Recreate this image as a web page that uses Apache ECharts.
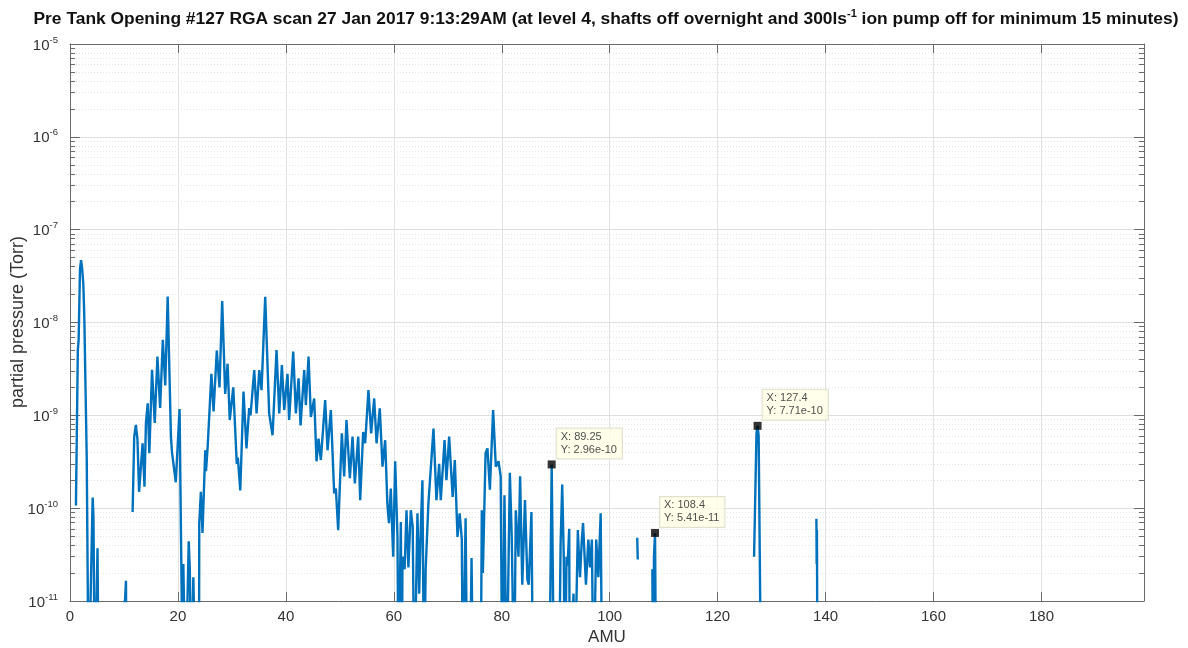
<!DOCTYPE html>
<html>
<head>
<meta charset="utf-8">
<script src="https://cdn.jsdelivr.net/npm/echarts@6/dist/echarts.min.js"></script>
<style>
html,body{margin:0;padding:0;background:#fff;}
#chart{width:1188px;height:648px;}
</style>
</head>
<body>
<div id="chart"></div>
<script>
// ---- data (AMU, partial pressure in Torr); null = gap (no positive reading) ----
const amu = [
  1.1, 1.45, 1.6, 1.85, 2.05, 2.25, 2.47, 2.65, 3.1, 3.45, 3.55, 4.2, 4.35, 4.6, 4.8, 5.1, 5.3, 7.5,
  9.9, 10.2, 10.37, 10.5, 11.0,
  11.6, 11.9, 12.2, 12.5, 12.8, 13.45, 13.8, 14.07, 14.4, 14.7, 15.2, 15.7, 16.2, 16.7, 17.2, 17.65, 18.1,
  18.7, 18.9, 19.6, 20.3, 20.9, 21.0, 21.2, 21.4, 22.0, 22.2, 22.5, 22.85, 23.0, 23.3, 23.9,
  23.95, 24.25, 24.55, 25.06, 25.2, 25.5, 26.2, 26.6, 27.2, 27.7, 28.2, 28.75, 29.2, 29.6, 30.25,
  30.9, 31.1, 31.55, 32.15, 32.7, 33.2, 33.45, 34.14, 34.57, 35.07, 35.49, 36.17, 36.9, 37.2, 37.53,
  38.27, 38.77, 39.26, 39.69, 40.3, 40.6, 41.36, 41.85, 42.35, 42.72, 43.4, 43.7, 44.2, 44.63, 45.25,
  45.68, 46.05, 46.48, 47.28, 47.72, 48.33, 48.95, 49.26, 49.69, 50.37, 50.8, 51.23, 51.85, 52.35,
  52.78, 53.4, 53.77, 54.32, 54.69, 55.3, 55.8, 56.36, 56.8, 57.4, 57.9, 58.4, 58.8, 59.1, 59.44,
  59.88, 60.25, 60.68, 60.87, 61.3, 61.5, 61.6, 62.0, 62.35, 62.7, 63.15, 63.5, 63.8, 64.38, 64.7,
  65.0, 65.3, 65.6, 65.9, 66.4, 66.7, 67.35, 67.9, 68.4, 68.7, 69.4, 69.75, 70.25, 70.9, 71.3, 71.8,
  72.2, 72.6, 72.8, 73.3, 73.6, 74.1, 74.4, 74.7, 75.4,
  76.1, 76.3, 76.5, 77.0, 77.35, 77.8, 78.4, 78.9, 79.4, 79.8, 80.1, 80.5, 80.9, 81.5, 81.85, 82.3,
  82.6, 83.1, 83.4, 83.8, 84.3, 84.75, 85.0, 85.5, 85.8, 87.0,
  88.8, 89.25, 89.7, 90.6, 90.9, 91.2, 91.5, 91.7, 92.0, 92.2, 92.5, 92.6, 93.3, 93.5, 94.1, 94.3,
  94.5, 94.8, 95.06, 95.4, 95.6, 96.05, 96.35, 96.7, 97.0, 97.5, 97.9, 98.33, 98.6, 102.0,
  105.1, 105.2, 106.5,
  107.9, 108.05, 108.2, 108.4, 108.6, 117.0,
  126.75, 127.2, 127.4, 127.6, 128.05, 133.0,
  138.3, 138.35, 138.4, 138.5
];
const pressure = [
  1.07e-10, 5e-9, 6.5e-9, 3.7e-8, 4.7e-8, 3.8e-8, 2.6e-8, 1.15e-8, 3.5e-10, 1e-12, 1e-12, 1.3e-10, 8e-11, 1e-12, 1e-12, 3.7e-11, 1e-12, null,
  9e-12, 1.02e-11, 1.65e-11, 1e-12, null,
  9.1e-11, 5.9e-10, 7.9e-10, 5.5e-10, 1.5e-10, 5e-10, 1.7e-10, 8.3e-10, 1.35e-9, 3.9e-10, 3.1e-9, 8.3e-10, 4.3e-9, 1.2e-9, 6.5e-9, 2.1e-9, 1.9e-8,
  5.9e-10, 4e-10, 1.9e-10, 1.17e-9, 1e-12, 2.5e-11, 2.4e-11, 1e-12, 4.4e-11, 2.2e-11, 1e-12, 1.8e-11, 1.8e-11, 1e-12, 1e-12,
  6.9e-11, 1.5e-10, 5.4e-11, 4.2e-10, 2.5e-10, 4.5e-10, 2.8e-9, 1.1e-9, 5e-9, 2e-9, 1.7e-8, 1.7e-9, 3.6e-9, 8.9e-10, 2.0e-9,
  3.0e-10, 3.5e-10, 1.55e-10, 1.8e-9, 4.4e-10, 1.2e-9, 1.0e-9, 3.07e-9, 1.05e-9, 3.07e-9, 1.87e-9, 1.89e-8, 1.05e-9, 1.09e-9, 6.1e-10,
  5.05e-9, 1.05e-9, 3.47e-9, 1.14e-9, 2.8e-9, 8.9e-10, 4.85e-9, 1.05e-9, 2.5e-9, 7.8e-10, 3.07e-9, 1.29e-9, 4.3e-9, 9.6e-10, 1.52e-9,
  3.2e-10, 5.6e-10, 3.3e-10, 1.46e-9, 4.2e-10, 1.14e-9, 1.44e-10, 1.63e-10, 5.8e-11, 6.4e-10, 2.2e-10, 8.9e-10, 2.1e-10, 5.9e-10,
  1.85e-10, 5.9e-10, 1.22e-10, 6.6e-10, 5e-10, 1.87e-9, 6.4e-10, 1.52e-9, 5e-10, 1.19e-9, 2.8e-10, 5.4e-10, 1.12e-10, 6.9e-11, 1.63e-10,
  3e-11, 3.2e-10, 4.9e-11, 1e-12, 7.1e-11, 1e-12, 3e-11, 2.2e-11, 9.5e-11, 2.3e-11, 9.5e-11, 6.3e-11, 1e-12, 8.8e-11, 1.2e-11,
  6.2e-11, 2e-10, 1e-12, 2.2e-11, 1.1e-10, 1.05e-10, 7.2e-10, 1.22e-10, 3e-10, 1.22e-10, 5.4e-10, 2e-10, 5.9e-10, 1.32e-10, 3.3e-10, 4.9e-11,
  8.8e-11, 4.6e-11, 1e-12, 7.8e-11, 1e-12, 1e-12, 2.9e-11, 1e-12, null,
  1e-12, 9.5e-11, 2e-11, 3.9e-10, 4.4e-10, 1.58e-10, 1.14e-9, 2.8e-10, 3.2e-10, 2.2e-10, 1e-12, 1.38e-10, 1e-12, 2.4e-10, 4.9e-11, 1e-12,
  9.5e-11, 3e-11, 2.2e-10, 1.5e-11, 1.22e-10, 1.7e-11, 1.5e-11, 9.1e-11, 1e-12, null,
  1e-12, 2.96e-10, 1e-12, 1e-12, 4e-11, 1.8e-10, 2.8e-11, 1e-12, 3e-11, 2.4e-11, 6e-11, 1e-12, 1.2e-11, 1e-12, 5.8e-11, 3e-11,
  1.8e-11, 4.2e-11, 6.9e-11, 6.9e-11, 1.5e-11, 4.6e-11, 2.3e-11, 4.6e-11, 1e-12, 4.6e-11, 1.8e-11, 8.8e-11, 1e-12, null,
  4.8e-11, 2.8e-11, null,
  2.2e-11, 1e-12, 3e-11, 5.41e-11, 1e-12, null,
  3e-11, 6.5e-10, 7.71e-10, 6e-10, 1e-12, null,
  7.7e-11, 2.5e-11, 5.8e-11, 1e-12
];
const tipAmu = [89.25, 108.4, 127.4];
const tipPressure = [2.96e-10, 5.41e-11, 7.71e-10];
const tipYText = ['2.96e-10', '5.41e-11', '7.71e-10'];
const xTickValues = [0, 20, 40, 60, 80, 100, 120, 140, 160, 180];
const yMajorExponents = [-11, -10, -9, -8, -7, -6, -5];

const xMin = 0, xMax = 199, yMin = 1e-11, yMax = 1e-5;
const FONT = '"Liberation Sans", Arial, Helvetica, sans-serif';
const AXIS_COLOR = '#6a6a6a';

const yMajor = yMajorExponents.map(e => Math.pow(10, e));
const yMinor = [];
yMajorExponents.slice(0, -1).forEach(e => {
  for (let k = 2; k <= 9; k++) yMinor.push(parseFloat((k * Math.pow(10, e)).toPrecision(3)));
});

const lineData = amu.map((x, i) => [x, pressure[i] === null ? '-' : pressure[i]]);
const tipData = tipAmu.map((x, i) => ({
  value: [x, tipPressure[i]],
  label: { formatter: 'X: ' + x + '\nY: ' + tipYText[i] }
}));

const chart = echarts.init(document.getElementById('chart'), null, { renderer: 'canvas' });

const baseY = {
  type: 'log', logBase: 10, min: yMin, max: yMax,
  axisLine: { show: true, lineStyle: { color: AXIS_COLOR, width: 1 } },
  axisLabel: { show: false },
  splitLine: { show: false }
};

chart.setOption({
  animation: false,
  backgroundColor: '#ffffff',
  grid: { left: 70, right: 44, top: 44, bottom: 47, containLabel: false, outerBoundsMode: 'none' },
  graphic: [{
    type: 'text', x: 606, y: 18,
    style: {
      text: '{t|Pre Tank Opening #127 RGA scan 27 Jan 2017 9:13:29AM (at level 4, shafts off overnight and 300ls}{s|-1}{t| ion pump off for minimum 15 minutes)}',
      align: 'center', verticalAlign: 'middle',
      rich: {
        t: { fontFamily: FONT, fontWeight: 'bold', fontSize: 17.4, fill: '#111', verticalAlign: 'bottom', lineHeight: 20 },
        s: { fontFamily: FONT, fontWeight: 'bold', fontSize: 11, fill: '#111', verticalAlign: 'top', padding: [0, 0, 9, 0], lineHeight: 20 }
      }
    }
  }, {
    type: 'text', x: 18, y: 322, rotation: Math.PI / 2,
    style: {
      text: 'partial pressure (Torr)', align: 'center', verticalAlign: 'middle',
      fontFamily: FONT, fontSize: 18, fill: '#333'
    }
  }],
  xAxis: [{
    type: 'value', min: xMin, max: xMax, position: 'bottom',
    name: 'AMU', nameLocation: 'middle', nameGap: 26,
    nameTextStyle: { fontFamily: FONT, fontSize: 17, color: '#333' },
    axisLine: { show: true, onZero: false, lineStyle: { color: AXIS_COLOR, width: 1 } },
    axisTick: { show: true, inside: true, length: 9, customValues: xTickValues, lineStyle: { color: AXIS_COLOR } },
    axisLabel: { fontFamily: FONT, fontSize: 15, color: '#333', margin: 8, customValues: xTickValues },
    splitLine: { show: true, lineStyle: { color: '#e2e2e2', width: 1 } }
  }, {
    type: 'value', min: xMin, max: xMax, position: 'top',
    axisLine: { show: true, onZero: false, lineStyle: { color: AXIS_COLOR, width: 1 } },
    axisTick: { show: true, inside: true, length: 9, customValues: xTickValues, lineStyle: { color: AXIS_COLOR } },
    axisLabel: { show: false },
    splitLine: { show: false }
  }],
  yAxis: [
    Object.assign({}, baseY, {
      position: 'left',
      axisTick: { show: true, inside: true, length: 10, customValues: yMajor, lineStyle: { color: AXIS_COLOR } },
      axisLabel: {
        show: true, margin: 12, customValues: yMajor,
        formatter: v => '{b|10}{s|' + Math.round(Math.log10(v)) + '}',
        rich: {
          b: { fontFamily: FONT, fontSize: 15, color: '#333', verticalAlign: 'bottom', lineHeight: 18 },
          s: { fontFamily: FONT, fontSize: 9.5, color: '#333', verticalAlign: 'top', padding: [0, 0, 8, 0], lineHeight: 18 }
        }
      },
      splitLine: { show: true, lineStyle: { color: '#dedede', width: 1 } }
    }),
    Object.assign({}, baseY, {
      position: 'left',
      axisLine: { show: false },
      axisTick: { show: true, inside: true, length: 5, customValues: yMinor, lineStyle: { color: AXIS_COLOR } },
      splitLine: { show: true, lineStyle: { color: '#e6e6e6', width: 1, type: [1, 2] } }
    }),
    Object.assign({}, baseY, {
      position: 'right',
      axisTick: { show: true, inside: true, length: 10, customValues: yMajor, lineStyle: { color: AXIS_COLOR } }
    }),
    Object.assign({}, baseY, {
      position: 'right',
      axisLine: { show: false },
      axisTick: { show: true, inside: true, length: 5, customValues: yMinor, lineStyle: { color: AXIS_COLOR } }
    })
  ],
  series: [{
    type: 'line', xAxisIndex: 0, yAxisIndex: 0,
    data: lineData, showSymbol: false, symbol: 'none', connectNulls: false, clip: true,
    lineStyle: { color: '#0072BD', width: 2.4 },
    emphasis: { disabled: true }, z: 3
  }, {
    type: 'scatter', xAxisIndex: 0, yAxisIndex: 0,
    data: tipData, symbol: 'rect', symbolSize: 8,
    itemStyle: { color: '#000' },
    label: {
      show: true, position: [9, -32], align: 'left', verticalAlign: 'top',
      fontFamily: FONT, fontSize: 11, color: '#222', lineHeight: 13,
      backgroundColor: '#FFFFE6', borderColor: '#d8d8c4', borderWidth: 1,
      padding: [2, 5, 2, 4]
    },
    emphasis: { disabled: true }, z: 5
  }]
});
</script>
</body>
</html>
